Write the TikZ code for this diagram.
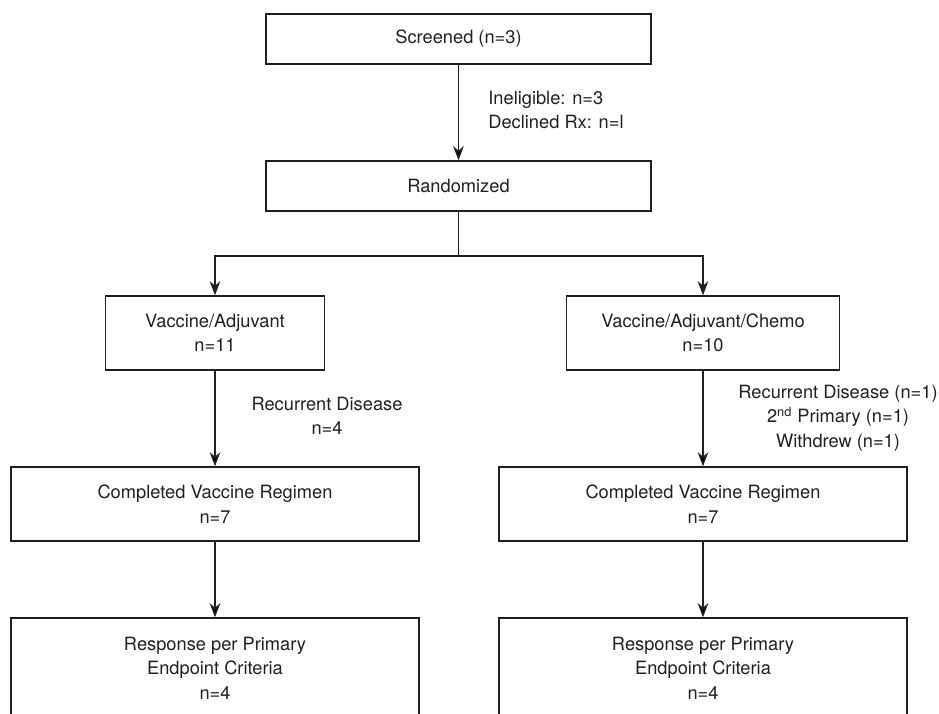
\documentclass[tikz,border=0pt]{standalone}
\usepackage{fontspec}
\setmainfont{TeX Gyre Heros}
\usepackage{tikz}
\usetikzlibrary{arrows.meta,positioning}
\definecolor{ink}{HTML}{231F20}
\tikzset{
    box/.style={
    rectangle,draw=ink,line width=0.8pt,align=center,text=ink,
    font=\fontsize{10.4}{14}\selectfont
    },
    note/.style={
    align=center,text=ink,inner sep=0pt,
    font=\fontsize{10.4}{14}\selectfont
    },
    flow/.style={
    draw=ink,line width=0.8pt,-{Stealth[length=8pt,width=6pt,inset=2.5pt]}
    },
}
\begin{document}
\begin{tikzpicture}[x=0.02cm, y=-0.02cm]
   \useasboundingbox (0,0) rectangle (939,713);

   \node[box,minimum width=7.7cm,minimum height=1cm] (screened) at (458.5,39) {Screened (n=3)};
   \node[box,minimum width=7.7cm,minimum height=1cm] (random) at (458.5,186) {Randomized};
   \coordinate (split) at (458.5,256);

   %vaccine arm
   \node[box,minimum width=4.38cm,minimum height=1.48cm] (vadj) at (215,333) {Vaccine/Adjuvant\\n=11};
   \node[box,minimum width=8.16cm,minimum height=1.48cm] (compa) at (215,504) {Completed Vaccine Regimen\\n=7};
   \node[box,minimum width=8.16cm,minimum height=2cm] (respa) at (215,668) {Response per Primary\\Endpoint Criteria\\n=4};

   %vaccine + chemo arm
   \node[box,minimum width=5.46cm,minimum height=1.48cm] (vchemo) at (703,333) {Vaccine/Adjuvant/Chemo\\n=10};
   \node[box,minimum width=8.16cm,minimum height=1.48cm] (compb) at (703,504) {Completed Vaccine Regimen\\n=7};
   \node[box,minimum width=8.16cm,minimum height=2cm] (respb) at (703,668) {Response per Primary\\Endpoint Criteria\\n=4};

   %drop-outs
   \node[note,anchor=west,align=left] (excl) at (488,110) {Ineligible: n=3\\Declined Rx: n=l};
   \node[note] (dropa) at (327,416) {Recurrent Disease\\n=4};
   \node[note] (dropb) at (838,418) {Recurrent Disease (n=1)\\2\textsuperscript{nd} Primary (n=1)\\Withdrew (n=1)};

  \path[flow]
    (screened) edge (random)
    (vadj) edge (compa)
    (compa) edge (respa)
    (vchemo) edge (compb)
    (compb) edge (respb);
  \draw[draw=ink,line width=0.8pt] (random) -- (split);
  \draw[flow] (split) -| (vadj);
  \draw[flow] (split) -| (vchemo);
\end{tikzpicture}
\end{document}
